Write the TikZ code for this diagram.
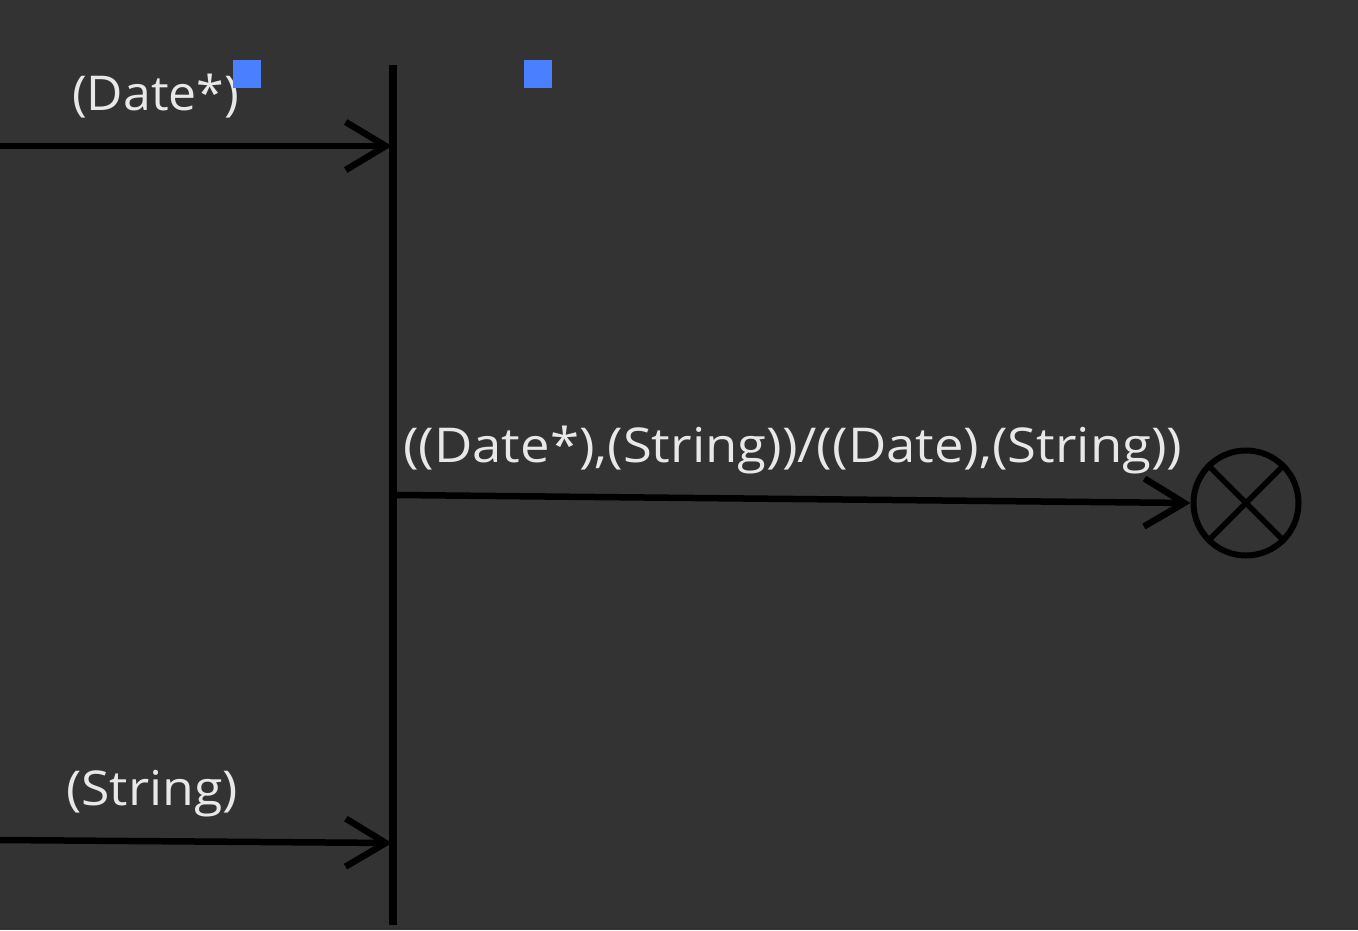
\documentclass[tikz,border=0pt]{standalone}
\usepackage{fontspec}
\setmainfont{Open Sans}
\usetikzlibrary{arrows.meta}
\definecolor{bg}{HTML}{333333}
\definecolor{txt}{HTML}{E8E8E8}
\definecolor{handle}{HTML}{4A80FF}
\tikzset{
  msg/.style={line width=6.5pt, black, -{Straight Barb[length=40pt,width=48pt,line width=6.5pt]}},
  lbl/.style={text=txt, font=\fontsize{48}{52}\selectfont, inner sep=0pt, anchor=base west},
  sq/.style={fill=handle, draw=none, minimum size=28pt, inner sep=0pt},
}
\begin{document}
\begin{tikzpicture}[x=1pt,y=-1pt]
\fill[bg] (0,0) rectangle (1358,930);
\useasboundingbox (0,0) rectangle (1358,930);
% lifeline
\coordinate (lt) at (393,65);
\coordinate (lb) at (393,925);
\draw[line width=7.5pt, black] (lt) -- (lb);
% incoming messages
\coordinate (m1s) at (0,146);
\coordinate (m1e) at (392,146);
\coordinate (m3s) at (0,840);
\coordinate (m3e) at (392,843);
\draw[msg] (m1s) -- (m1e);
\draw[msg] (m3s) -- (m3e);
% terminator
\node[circle, draw=black, line width=6pt, minimum size=105pt, inner sep=0pt] (end) at (1246,503) {};
\draw[line width=5.5pt, black] (end.north west) -- (end.south east);
\draw[line width=5.5pt, black] (end.north east) -- (end.south west);
\coordinate (m2s) at (397,495);
\draw[msg] (m2s) -- (end.west);
% labels
\node[lbl] (l1) at (72,110) {\scalebox{1.04}[1]{(Date*)}};
\node[lbl] (l2) at (403,462) {\scalebox{1.096}[1]{((Date*),(String))/((Date),(String))}};
\node[lbl] (l3) at (66,805) {\scalebox{1.078}[1]{(String)}};
% handles
\node[sq] (h1) at (247,73.5) {};
\node[sq] (h2) at (538,73.5) {};
\end{tikzpicture}
\end{document}
